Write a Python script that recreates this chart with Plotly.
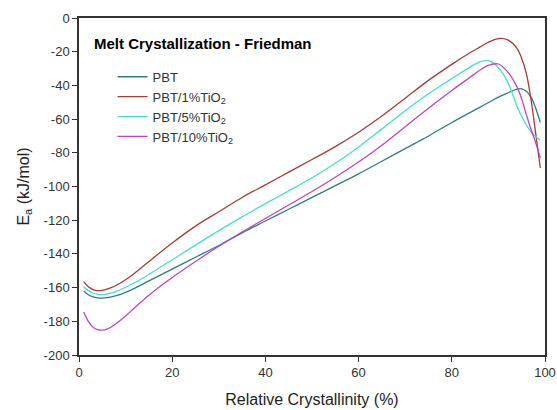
import plotly.graph_objects as go

x_vals = [1, 2, 3, 4, 5, 6, 7, 8, 10, 12, 15, 20, 25, 30, 35, 40, 45, 50, 55, 60, 65, 70,
          75, 80, 84, 86, 88, 90, 92, 94, 95, 96, 97, 98, 99]

pbt = [-162, -164.2, -165.5, -166.1, -166.2, -166, -165.5, -164.8, -162.8, -160.3, -156,
       -149, -142, -135, -127.5, -120.5, -113.5, -106.5, -99.5, -92.5, -85, -77.5, -70,
       -62, -56, -53, -50, -47, -44.5, -42.2, -42, -43.5, -47, -53.5, -62]

pbt_1 = [-156.5, -159.5, -161.2, -161.8, -161.6, -160.9, -159.9, -158.6, -155.3, -151.3,
         -144.5, -133.5, -123.5, -115, -106.5, -99, -91.5, -84, -76.3, -67.8, -58.2, -47.6,
         -37, -27.5, -20.5, -17.3, -14.2, -12.2, -13, -18, -24, -33, -48.5, -68.5, -89]

pbt_5 = [-159.5, -161.8, -163.2, -164, -164.2, -163.9, -163.2, -162.3, -159.8, -157,
         -152.2, -143.5, -134.8, -126.2, -118, -110.2, -102.6, -94.8, -86.2, -76.5,
         -65.8, -55, -45, -36, -29, -26, -25.5, -29.5, -38, -52.5, -58.5, -63.5, -67.5,
         -70.5, -72.5]

pbt_10 = [-174.5, -180, -183.5, -185, -185.2, -184.6, -183.2, -181.3, -176.8, -171.8,
          -164.5, -154, -144.5, -135.5, -127, -119, -111, -103, -94.5, -85.5, -75.5,
          -64.5, -53.5, -43, -35, -31, -28, -27.3, -32, -41, -48, -57.5, -66, -74, -83]

series_names = ["PBT", "PBT/1%TiO<sub>2</sub>", "PBT/5%TiO<sub>2</sub>", "PBT/10%TiO<sub>2</sub>"]
series_colors = ["#2E7E7E", "#A63C34", "#45DED2", "#BE44C0"]

x_ticks = [0, 20, 40, 60, 80, 100]
y_ticks = list(range(-200, 1, 20))
y_tick_text = [str(v) for v in y_ticks]

fig = go.Figure()
for name, ys, col in zip(series_names, [pbt, pbt_1, pbt_5, pbt_10], series_colors):
    fig.add_trace(go.Scatter(x=x_vals, y=ys, mode="lines", name=name,
                             line=dict(color=col, width=1.3, shape="spline", smoothing=1.0)))

fig.update_layout(
    width=557, height=410,
    margin=dict(l=79, r=12, t=18, b=55),
    paper_bgcolor="white", plot_bgcolor="white",
    font=dict(family="Arial, Liberation Sans, sans-serif", color="#222", size=13),
    showlegend=True,
    legend=dict(x=0.072, y=0.87, xanchor="left", yanchor="top",
                bgcolor="rgba(0,0,0,0)", font=dict(size=13, color="#333"),
                itemwidth=30, tracegroupgap=0),
    annotations=[dict(text="<b>Melt Crystallization - Friedman</b>", x=0.028, y=0.923,
                      xref="paper", yref="paper", xanchor="left", yanchor="middle",
                      showarrow=False, font=dict(size=15, color="black"))],
)
fig.update_xaxes(range=[0, 100], tickvals=x_ticks, automargin=False,
                 showgrid=False, zeroline=False, showline=True, linecolor="#333",
                 linewidth=1.5, mirror=True, ticks="outside", ticklen=5, tickcolor="#333",
                 title=dict(text="Relative Crystallinity (%)", font=dict(size=16), standoff=14),
                 tickfont=dict(size=13, color="#333"))
fig.update_yaxes(range=[-200, 0], tickvals=y_ticks, ticktext=y_tick_text, automargin=False,
                 showgrid=False, zeroline=False, showline=True, linecolor="#333",
                 linewidth=1.5, mirror=True, ticks="outside", ticklen=5, tickcolor="#333",
                 title=dict(text="E<sub>a</sub> (kJ/mol)", font=dict(size=16), standoff=10),
                 tickfont=dict(size=13, color="#333"))

fig.write_html("out.html")
